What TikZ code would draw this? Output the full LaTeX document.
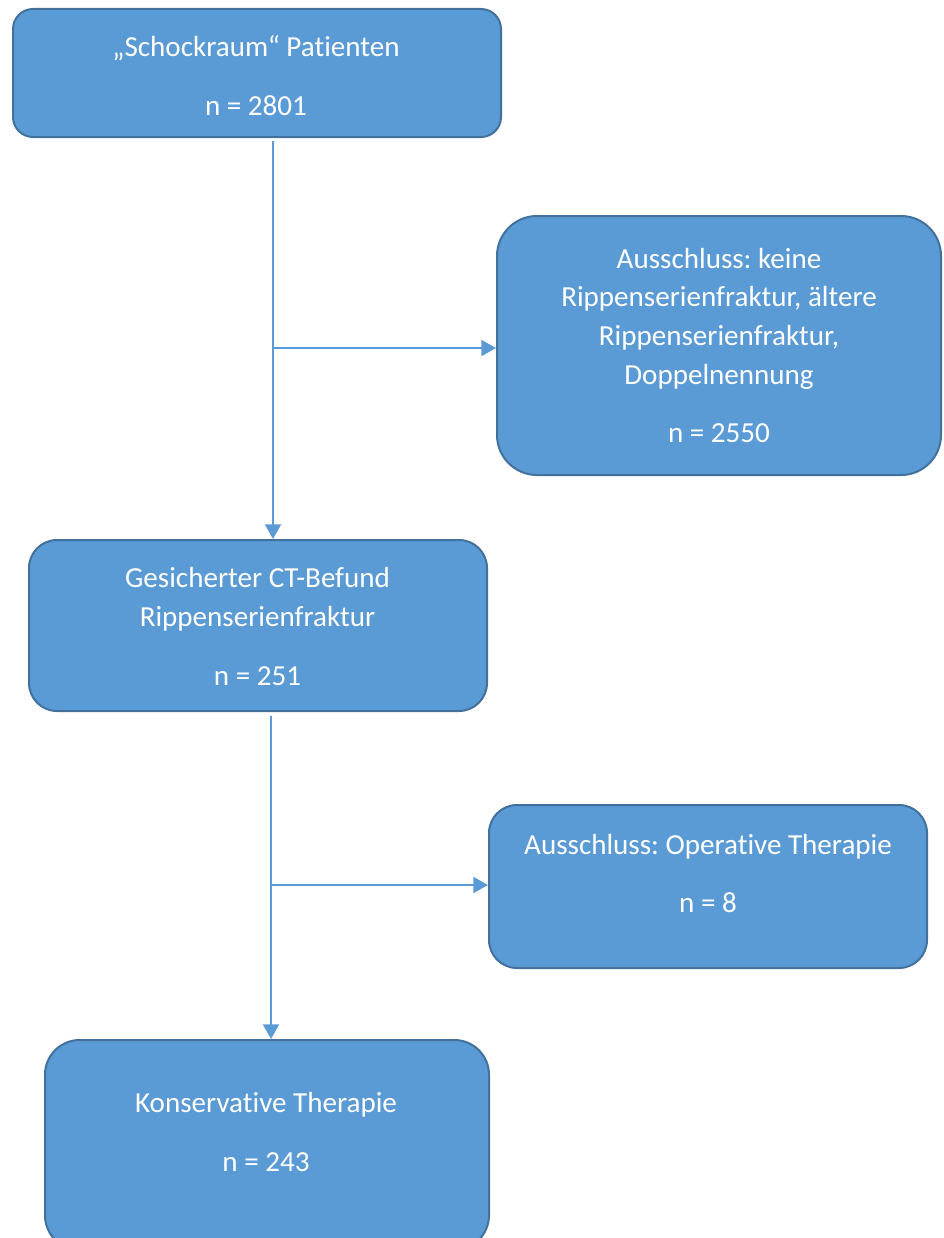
\documentclass[tikz,border=0pt]{standalone}
\usepackage{fontspec}
\setmainfont{Carlito}[Ligatures=NoCommon]
\usetikzlibrary{arrows.meta}
\definecolor{boxfill}{HTML}{5B9BD5}
\definecolor{boxedge}{HTML}{41719C}
\frenchspacing
\begin{document}
\begin{tikzpicture}[x=0.75pt,y=-0.75pt,
  box/.style={draw=boxedge, fill=boxfill, line width=1.5pt, inner sep=0pt},
  txt/.style={text=white, font=\fontsize{21.8}{29}\selectfont, align=center, inner sep=0pt},
  conn/.style={draw=boxfill, line width=1.5pt},
  arr/.style={conn, -{Triangle[length=11pt,width=12pt]}}]
\useasboundingbox (0,0) rectangle (944,1238);
\clip (0,0) rectangle (944,1238);

% boxes
\node[box, minimum width=366pt, minimum height=96pt, rounded corners=15pt] (b1) at (257,73) {};
\node[box, minimum width=333pt, minimum height=194.25pt, rounded corners=30pt] (b2) at (719,345.5) {};
\node[box, minimum width=343.5pt, minimum height=128.25pt, rounded corners=21pt] (b3) at (258,625.5) {};
\node[box, minimum width=328.5pt, minimum height=122.25pt, rounded corners=21pt] (b4) at (708,886.5) {};
\node[box, minimum width=333pt, minimum height=157.5pt, rounded corners=26pt] (b5) at (267,1145) {};

% texts
\node[txt] (t1) at (256,75.5) {„Schockraum“ Patienten\\[15pt] n = 2801};
\node[txt] (t2) at (719,345.5) {Ausschluss: keine\\ Rippenserienfraktur, ältere\\ Rippenserienfraktur,\\ Doppelnennung\\[15pt] n = 2550};
\node[txt] (t3) at (257.5,626.5) {Gesicherter CT-Befund\\ Rippenserienfraktur\\[15pt] n = 251};
\node[txt] (t4) at (708,873.5) {Ausschluss: Operative Therapie\\[15pt] n = 8};
\node[txt] (t5) at (266,1132) {Konservative Therapie\\[15pt] n = 243};

% junctions
\coordinate (j1) at (273,348);
\coordinate (j2) at (271,885);

% connectors
\draw[arr, shorten <=2pt] (b1.south -| j1) -- (b3.north -| j1);
\draw[arr] (j1) -- (b2.west |- j1);
\draw[arr, shorten <=3pt] (b3.south -| j2) -- (b5.north -| j2);
\draw[arr] (j2) -- (b4.west |- j2);
\end{tikzpicture}
\end{document}
